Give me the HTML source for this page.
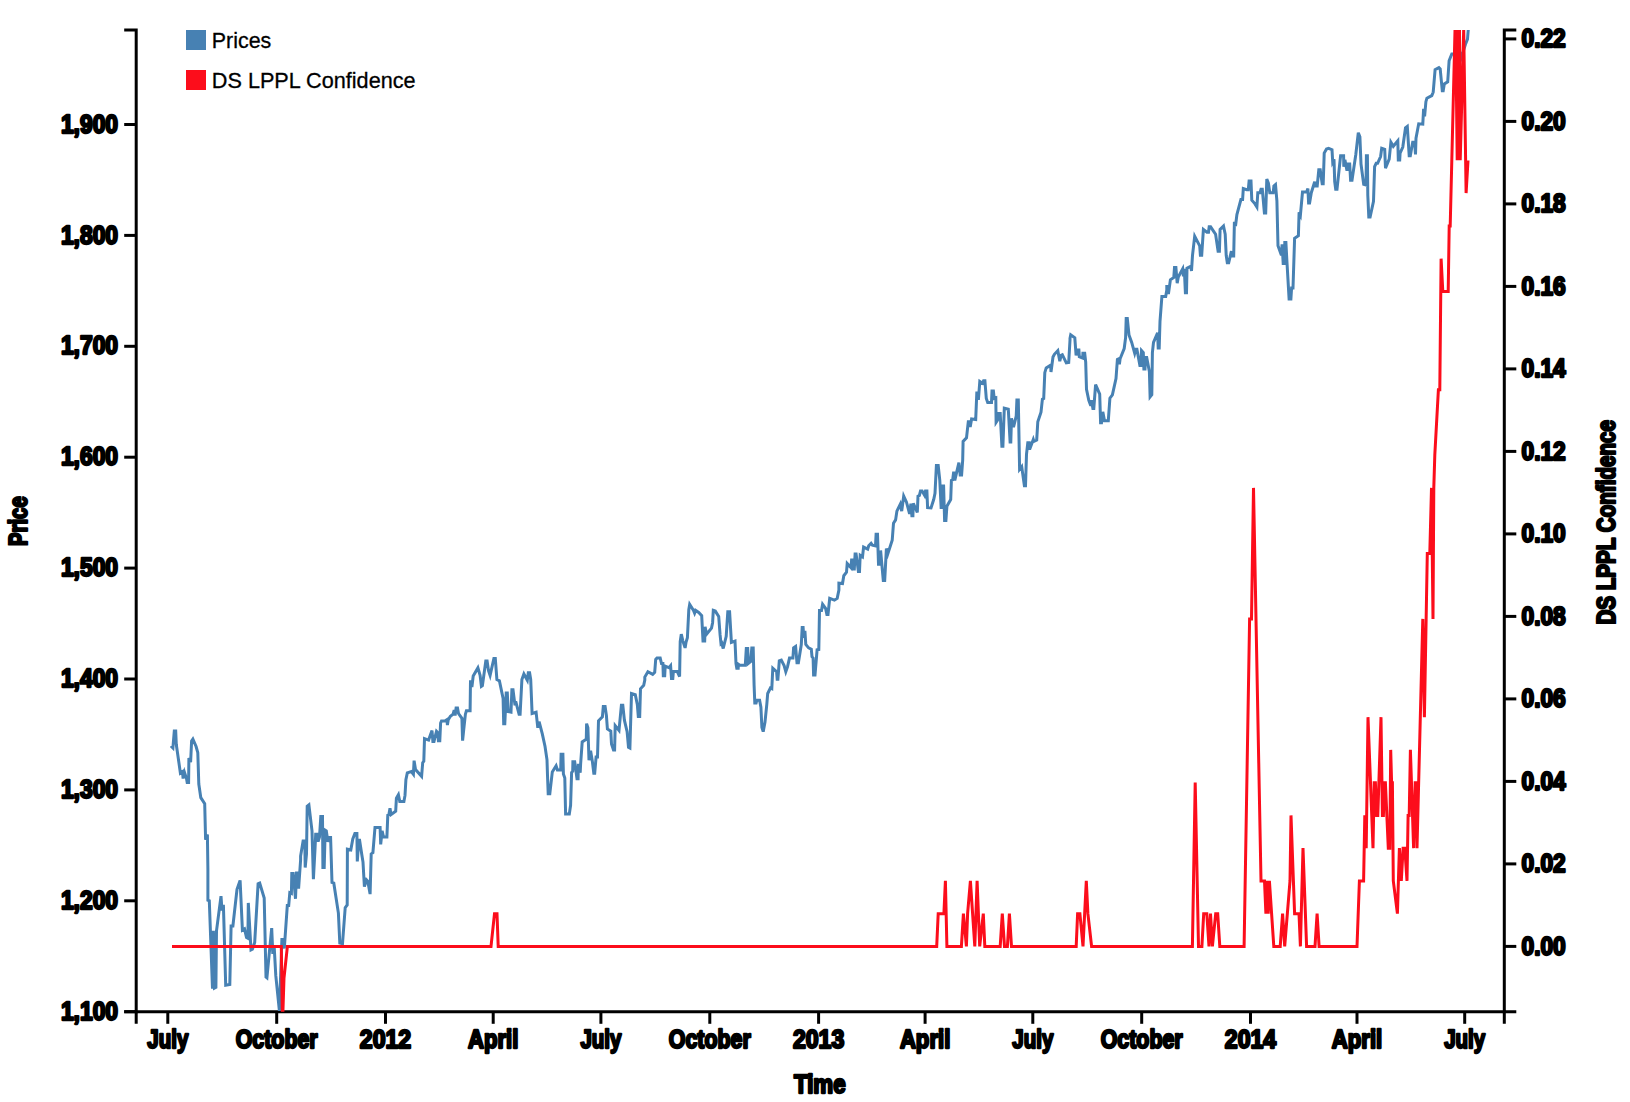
<!DOCTYPE html>
<html><head><meta charset="utf-8"><title>Chart</title>
<style>
html,body{margin:0;padding:0;background:#fff;overflow:hidden;}
svg{display:block}
text{font-family:"Liberation Sans",sans-serif;}
.ax text{font-weight:bold;font-size:25.3px;fill:#000;stroke:#000;stroke-width:2.3px;stroke-linejoin:round}
.ax path,.ax line{fill:none;stroke:#000;stroke-width:3px}
.lbl{font-weight:bold;font-size:25.3px;fill:#000;stroke:#000;stroke-width:2.3px;stroke-linejoin:round}
.leg{font-size:22.5px;fill:#000;stroke:#000;stroke-width:0.3px}
.ln{fill:none;stroke-width:3px;stroke-linejoin:miter}
</style></head><body>
<svg width="1630" height="1102" viewBox="0 0 1630 1102">
<defs><clipPath id="clip"><rect x="136.2" y="30" width="1368.1" height="981.8"/></clipPath></defs>
<rect width="1630" height="1102" fill="#fff"/>

<g class="ax">
<path d="M136.2,1023.8V1011.8H1504.3V1023.8"/>
<line x1="167.8" x2="167.8" y1="1011.8" y2="1023.8"/>
<text x="167.8" y="1047.5" text-anchor="middle" textLength="41.0" lengthAdjust="spacingAndGlyphs">July</text>
<line x1="276.7" x2="276.7" y1="1011.8" y2="1023.8"/>
<text x="276.7" y="1047.5" text-anchor="middle" textLength="81.9" lengthAdjust="spacingAndGlyphs">October</text>
<line x1="385.5" x2="385.5" y1="1011.8" y2="1023.8"/>
<text x="385.5" y="1047.5" text-anchor="middle" textLength="51.4" lengthAdjust="spacingAndGlyphs">2012</text>
<line x1="493.2" x2="493.2" y1="1011.8" y2="1023.8"/>
<text x="493.2" y="1047.5" text-anchor="middle" textLength="50.4" lengthAdjust="spacingAndGlyphs">April</text>
<line x1="600.9" x2="600.9" y1="1011.8" y2="1023.8"/>
<text x="600.9" y="1047.5" text-anchor="middle" textLength="41.0" lengthAdjust="spacingAndGlyphs">July</text>
<line x1="709.8" x2="709.8" y1="1011.8" y2="1023.8"/>
<text x="709.8" y="1047.5" text-anchor="middle" textLength="81.9" lengthAdjust="spacingAndGlyphs">October</text>
<line x1="818.6" x2="818.6" y1="1011.8" y2="1023.8"/>
<text x="818.6" y="1047.5" text-anchor="middle" textLength="51.4" lengthAdjust="spacingAndGlyphs">2013</text>
<line x1="925.1" x2="925.1" y1="1011.8" y2="1023.8"/>
<text x="925.1" y="1047.5" text-anchor="middle" textLength="50.4" lengthAdjust="spacingAndGlyphs">April</text>
<line x1="1032.8" x2="1032.8" y1="1011.8" y2="1023.8"/>
<text x="1032.8" y="1047.5" text-anchor="middle" textLength="41.0" lengthAdjust="spacingAndGlyphs">July</text>
<line x1="1141.7" x2="1141.7" y1="1011.8" y2="1023.8"/>
<text x="1141.7" y="1047.5" text-anchor="middle" textLength="81.9" lengthAdjust="spacingAndGlyphs">October</text>
<line x1="1250.5" x2="1250.5" y1="1011.8" y2="1023.8"/>
<text x="1250.5" y="1047.5" text-anchor="middle" textLength="51.4" lengthAdjust="spacingAndGlyphs">2014</text>
<line x1="1357.0" x2="1357.0" y1="1011.8" y2="1023.8"/>
<text x="1357.0" y="1047.5" text-anchor="middle" textLength="50.4" lengthAdjust="spacingAndGlyphs">April</text>
<line x1="1464.7" x2="1464.7" y1="1011.8" y2="1023.8"/>
<text x="1464.7" y="1047.5" text-anchor="middle" textLength="41.0" lengthAdjust="spacingAndGlyphs">July</text>
</g>
<g class="ax">
<path d="M124.19999999999999,30H136.2V1011.8H124.19999999999999"/>
<line x1="124.19999999999999" x2="136.2" y1="1011.7" y2="1011.7"/>
<text x="118.1" y="1019.8" text-anchor="end" textLength="57.2" lengthAdjust="spacingAndGlyphs">1,100</text>
<line x1="124.19999999999999" x2="136.2" y1="900.8" y2="900.8"/>
<text x="118.1" y="908.9" text-anchor="end" textLength="57.2" lengthAdjust="spacingAndGlyphs">1,200</text>
<line x1="124.19999999999999" x2="136.2" y1="789.9" y2="789.9"/>
<text x="118.1" y="798.0" text-anchor="end" textLength="57.2" lengthAdjust="spacingAndGlyphs">1,300</text>
<line x1="124.19999999999999" x2="136.2" y1="679.0" y2="679.0"/>
<text x="118.1" y="687.1" text-anchor="end" textLength="57.2" lengthAdjust="spacingAndGlyphs">1,400</text>
<line x1="124.19999999999999" x2="136.2" y1="568.1" y2="568.1"/>
<text x="118.1" y="576.2" text-anchor="end" textLength="57.2" lengthAdjust="spacingAndGlyphs">1,500</text>
<line x1="124.19999999999999" x2="136.2" y1="457.2" y2="457.2"/>
<text x="118.1" y="465.3" text-anchor="end" textLength="57.2" lengthAdjust="spacingAndGlyphs">1,600</text>
<line x1="124.19999999999999" x2="136.2" y1="346.3" y2="346.3"/>
<text x="118.1" y="354.4" text-anchor="end" textLength="57.2" lengthAdjust="spacingAndGlyphs">1,700</text>
<line x1="124.19999999999999" x2="136.2" y1="235.4" y2="235.4"/>
<text x="118.1" y="243.5" text-anchor="end" textLength="57.2" lengthAdjust="spacingAndGlyphs">1,800</text>
<line x1="124.19999999999999" x2="136.2" y1="124.5" y2="124.5"/>
<text x="118.1" y="132.6" text-anchor="end" textLength="57.2" lengthAdjust="spacingAndGlyphs">1,900</text>
</g>
<g class="ax">
<path d="M1516.3,30H1504.3V1011.8H1516.3"/>
<line x1="1504.3" x2="1516.3" y1="946.4" y2="946.4"/>
<text x="1521.5" y="954.5" text-anchor="start" textLength="44.2" lengthAdjust="spacingAndGlyphs">0.00</text>
<line x1="1504.3" x2="1516.3" y1="863.9" y2="863.9"/>
<text x="1521.5" y="872.0" text-anchor="start" textLength="44.2" lengthAdjust="spacingAndGlyphs">0.02</text>
<line x1="1504.3" x2="1516.3" y1="781.4" y2="781.4"/>
<text x="1521.5" y="789.5" text-anchor="start" textLength="44.2" lengthAdjust="spacingAndGlyphs">0.04</text>
<line x1="1504.3" x2="1516.3" y1="698.9" y2="698.9"/>
<text x="1521.5" y="707.0" text-anchor="start" textLength="44.2" lengthAdjust="spacingAndGlyphs">0.06</text>
<line x1="1504.3" x2="1516.3" y1="616.4" y2="616.4"/>
<text x="1521.5" y="624.5" text-anchor="start" textLength="44.2" lengthAdjust="spacingAndGlyphs">0.08</text>
<line x1="1504.3" x2="1516.3" y1="533.9" y2="533.9"/>
<text x="1521.5" y="542.0" text-anchor="start" textLength="44.2" lengthAdjust="spacingAndGlyphs">0.10</text>
<line x1="1504.3" x2="1516.3" y1="451.4" y2="451.4"/>
<text x="1521.5" y="459.5" text-anchor="start" textLength="44.2" lengthAdjust="spacingAndGlyphs">0.12</text>
<line x1="1504.3" x2="1516.3" y1="368.9" y2="368.9"/>
<text x="1521.5" y="377.0" text-anchor="start" textLength="44.2" lengthAdjust="spacingAndGlyphs">0.14</text>
<line x1="1504.3" x2="1516.3" y1="286.4" y2="286.4"/>
<text x="1521.5" y="294.5" text-anchor="start" textLength="44.2" lengthAdjust="spacingAndGlyphs">0.16</text>
<line x1="1504.3" x2="1516.3" y1="203.9" y2="203.9"/>
<text x="1521.5" y="212.0" text-anchor="start" textLength="44.2" lengthAdjust="spacingAndGlyphs">0.18</text>
<line x1="1504.3" x2="1516.3" y1="121.4" y2="121.4"/>
<text x="1521.5" y="129.5" text-anchor="start" textLength="44.2" lengthAdjust="spacingAndGlyphs">0.20</text>
<line x1="1504.3" x2="1516.3" y1="38.9" y2="38.9"/>
<text x="1521.5" y="47.0" text-anchor="start" textLength="44.2" lengthAdjust="spacingAndGlyphs">0.22</text>
</g>
<g clip-path="url(#clip)">
<path class="ln" stroke="#4781b3" d="M170.9,745.9L172.9,747.9L174.3,730.9L175.7,730.9L176.3,744.5L180.4,773.1L182.5,771.7L183.1,778.5L184.5,772.4L186.5,778.5L187.2,782.6L188.6,782.6L188.9,758.1L190.6,762.2L191.6,741.1L192.9,739.1L196.1,746.5L197.8,752.7L198.8,784L200.8,797.6L204.7,803.7L205.6,839.8L207.4,834.4L207.9,869.8L207.9,900.2L209.3,900.8L212.5,988.7L213.4,930.8L214.5,988L215.9,987.3L216.5,930.8L221,896.1L222,910.4L223.4,904.9L225.7,985.3L229.8,984.6L231.1,926L232.9,926L237,889.3L240.1,880.4L242.4,930.1L244.5,928.8L246.5,937.6L247.9,938.3L248.3,902.9L251,949.9L252.4,949.2L254.7,942.4L258.1,883.8L259.7,883.1L264.2,898.1L266,977.1L266.9,977.8L271.7,928.1L272.8,953.9L274.1,945.1L275.8,975.7L279.4,1010.9L281.9,939.6L283.3,939.6L284.3,948.5L287.3,905.6L288.7,905.6L289.8,892.7L291.4,893.4L291.8,873.6L293.2,873.6L295.5,898.8L296.5,872.9L298.2,872.9L298.6,888.6L300.6,860L300.6,856L303.1,841L304.8,841L305.2,867.6L306.5,853.9L307.2,806.3L308.9,804.9L312,830.8L313.4,879.1L315.1,847.1L315.7,834.2L317,834.2L318.1,841.7L319.5,836.9L320.8,816.5L322.5,816.5L322.9,867.6L324.2,867.6L325.2,830.1L326.3,830.8L327.9,841.7L329.3,837.6L330.6,837.6L332,882.5L333.8,883.2L338.4,913.1L339.8,943L342.5,943.7L345.2,907.7L347.2,904.9L347.4,849.2L350.8,849.9L352.8,839L354.9,833.5L356.9,833.5L357.3,861.4L358.7,840.3L359.6,840.3L361.7,853.9L363,862.1L364.4,886.6L366.5,879.8L367.8,881.2L370.1,894.1L371.2,853.9L372.9,852.6L375,827.4L380.1,827.4L380.7,844.4L382.1,830.8L383.5,836.9L386.9,836.9L387.8,815.1L388.9,814.5L390,808.3L391,814.5L395.7,811.1L396.4,798.1L398.4,794.7L399.8,801.5L403.9,801.5L405,795.4L405.9,779.7L407.3,772.9L411.4,771.6L413.4,774.3L414.1,760.7L415.5,769.5L421.6,776.3L422.7,762.7L423.8,761.2L424.5,738.7L428.6,740.1L432,730.5L432.9,741.4L434,741.4L436.5,731.2L437.8,732.6L438.4,740.7L439.8,740.7L440.6,723L441.5,721L444.9,721L447,719.6L447.4,725.1L448.3,719.6L450.4,716.2L453.1,714.2L454.2,710.1L455.1,715.6L456.1,708.1L457.5,708.1L458.5,713.5L461.9,718.3L462.6,740.7L463.7,729.9L465.4,714.2L466.4,710.8L470.1,710.8L470.5,680.2L471.9,687L473.2,676.1L477.9,667.9L480.1,675.4L481.4,686.3L482.4,685.6L485.8,661.1L487.1,661.1L488.5,670.6L490.1,675.4L493.9,658.4L495.3,658.4L496.9,679.5L499.4,680.8L501.4,690.4L503.1,698.5L503.7,723.7L504.8,723.7L506.2,693.1L507.3,693.1L508.2,711.5L511,712.2L511.9,689.7L513,689.7L515,705.4L515.7,701.3L519.1,714.2L520.1,714.2L521.9,679.5L523.9,674L527.3,680.2L528.3,672.7L529.6,672.7L530.7,679.5L532.1,713.5L536.1,712.2L537.8,727.8L539.1,721.7L542.3,733.9L545,746.2L547,759.8L547.5,775.3L548.2,793.7L549.8,793.7L552.3,771.9L556.1,765.8L557.4,769.9L560.7,769.9L561.1,754.2L562.9,754.2L563.4,773.9L564.8,778L565.6,814.1L569.3,814.1L570.6,805.3L571.6,772.6L572.7,771.2L572.9,761.7L574.7,761.7L577,778.7L578.1,778.7L578.4,763.7L580.2,772.6L580.6,764.4L582.2,741.9L586.3,739.2L586.6,723.6L587.9,727.7L589,760.3L590.6,750.8L592.4,761.7L593.8,773.3L594.7,773.3L596.1,756.9L597.5,756.9L598.5,720.8L602.4,716.8L603.3,706.5L605.1,706.5L606.4,715.4L607.4,729L610.8,731.1L611.5,744L613.5,750.1L614.6,750.1L615.2,725.6L619,730.4L621.4,705.2L622.8,705.2L624.4,720.2L627.1,731.7L628.5,747.4L629.9,748.1L631.5,693.6L635.3,694.7L637.3,704.5L638.3,716.5L639.7,716.5L640.5,688.8L643.7,685.4L644.8,680L644.8,677.1L647.9,671.7L652.7,674.4L654.7,672.4L655.7,659.4L657,658.1L660.2,658.1L661.5,663.5L662.9,663.5L663.3,675.8L664.7,675.8L665.2,666.2L669,667.6L670.6,665.6L671.5,678.5L672.8,678.5L673.4,671.4L677.2,671.4L679.6,676.5L680.2,641.7L681.3,634.2L682.9,641.1L685.1,647.9L686,642.4L687.4,637.7L688.8,609.7L689.7,604.3L693.5,610.4L694.6,613.1L695.6,610.4L698.7,612.5L701.7,615.6L703,641.1L704.7,641.1L705.1,626.8L706.5,634.2L711.5,628.1L712.6,622.7L713.3,610.4L715.3,611.1L718.7,616.5L720.1,634.9L721,643.8L721.8,643.1L723.2,648.5L726.2,636.3L727.8,611.8L729.6,611.8L731.4,642.4L735,641.1L736,663.5L736.8,668.3L738.2,668.3L738.4,664.2L739.8,665.2L745.3,665.2L746.3,648.5L747.7,648.5L748.3,663.5L750.7,661.5L751.8,647.9L753.2,647.9L754.1,685.3L754.8,703L756.1,703L756.8,700.3L759.6,700.3L760.9,707.1L761.9,727.5L763.2,731.6L765,722.1L766.8,704.4L767.7,693.5L770.4,688L771.8,688.7L772.8,668.3L776.6,671.7L777.2,679.2L777.9,679.2L779.3,660.8L781.3,660.1L784.1,665.6L785.8,671.7L787.5,666.9L789.5,658.1L792.9,658.1L793.6,647.9L795.6,646.5L797,662.8L798.4,662.8L801.3,644.5L802.2,627.4L803.1,627.4L803.8,637.7L804.9,630.8L805.8,644.5L808.6,647.9L811.3,649.2L812,656.7L813.1,658.1L813.6,675.1L815,675.1L817.1,649.9L818.8,649.6L819.5,610.4L821.5,610.4L822.6,604.3L825.6,608.4L826.9,614.5L828,614.5L829.7,598.4L834.4,600.2L837.2,598.4L838.9,590L838.9,583.2L842.5,583.6L843.8,575.7L846.5,572.3L847.2,563.5L851,567.6L851.6,560.1L852.7,560.1L853.4,568.9L854.3,568.9L855.1,553.9L856.1,553.9L858.4,571.6L859.5,571.6L860.2,555.3L862.5,556.9L863.6,547.1L867.7,549.2L868.7,545.8L871.1,543.3L872.4,545.1L875.5,545.8L876.1,534.2L877.5,534.2L878.5,564.2L879.9,564.2L880.6,550.5L883.3,580.5L884.7,580.5L886.4,548.5L887.8,553.9L892.2,540.3L893.5,523.3L895.6,519.9L896.9,511.1L900.3,504.2L901.7,511.1L903.7,496.1L906.5,502.2L909.6,513.8L910.9,503.6L911.9,515.8L912.9,515.8L913.3,503.3L917.3,512.4L918,496.1L919.4,495.4L920.5,491L922.1,491L924.6,495.4L925.5,491L926.9,491L927.6,507.7L931,507.9L933.7,499.5L935,493.4L936.4,465.4L938.2,465.4L939.8,480.4L941.2,509L942.3,485.9L943.6,485.9L944.6,520.6L945.9,520.6L946.9,506.3L950.7,499.5L951.4,480.4L952.7,479.7L953.7,471.6L954.8,480.4L958.9,462.7L960.2,475L961.6,475L962.7,460L962.7,459.8L963.1,441.4L966.5,437.8L968.3,421.7L969.7,421.7L970.2,427.1L971.6,419L975.7,419.6L976.8,393.1L977.8,393.1L978.4,399.9L979.8,381.5L982.5,383.3L983.6,380.8L984.9,380.8L986.3,398.5L987.7,402.4L991.5,402.4L992,391.1L993.4,391.1L994.2,398.5L995.8,397.9L996.1,422.4L997.5,420.3L998.5,413.5L1000.2,413.5L1001.9,446.2L1002.9,446.2L1004.3,408.1L1008.3,409.2L1010.1,442.1L1010.8,442.1L1011.5,418.3L1013.5,427.1L1016.2,416.2L1016.9,399.9L1018.3,399.9L1019.6,469.3L1021.7,466.6L1024.4,485.7L1025.5,485.7L1026.5,454.4L1027.8,442.8L1029.2,442.8L1029.6,449.6L1033.3,439.4L1033.9,441.4L1036.7,440.1L1037.8,421.7L1041,412.2L1042.4,399.2L1043.7,398.5L1044.8,372.7L1046.2,367.9L1050.6,365.2L1051,372L1051.9,365.2L1053,357L1054.4,354.3L1057.8,350.6L1059.8,361.1L1061.2,355.2L1062.3,354.7L1066.3,362.9L1068.7,362.5L1070,340L1070,338.3L1070.7,334.9L1074.8,337.9L1076.1,355.4L1077.2,349.9L1078.9,349.9L1079.3,356.7L1082.7,358.1L1082.9,353.3L1084.7,353.3L1085.7,362.2L1086.5,389.4L1088.8,400.3L1090.8,405.7L1091.5,400.3L1092.9,408.4L1093.8,408.4L1095.6,384.6L1099.7,394.2L1100.6,422.7L1101.5,422.7L1102.8,411.9L1104.5,420.7L1108.3,420.7L1109.9,398.2L1112.4,394.8L1116,378.5L1117.4,359.4L1118.8,358.8L1119.4,364.2L1120.1,358.8L1124.2,348.5L1125.6,337.7L1126.2,318.6L1127.3,318.6L1129,334.9L1131.7,342.4L1134.7,353.3L1135.8,349.2L1136.9,349.2L1139.9,365.6L1140.9,365.6L1141.5,350.6L1143.3,352.6L1143.9,369L1145,369L1145.6,357.4L1146.7,357.4L1149.4,371.7L1150.1,396.9L1151.8,394.8L1152.4,352.6L1153.5,342.4L1157.6,332.9L1158.2,347.9L1159.2,347.9L1160,321.3L1161.9,296.5L1165.7,296.5L1166.8,290L1166.8,286.6L1167.7,286.6L1168.4,294.1L1170.4,279.8L1173.8,277.4L1174.5,267.6L1175.9,267.6L1177.2,283.2L1178.3,277.1L1182.7,268.9L1183.4,276.4L1184.3,268.9L1185.4,292.7L1186.5,292.7L1187,268.2L1190.8,266.2L1191.5,271L1192.5,255.3L1194.7,236.2L1199.7,245.8L1200.4,255.3L1201.7,255.3L1203.4,229.4L1206.9,232.2L1208.5,232.2L1209.2,226.7L1210.6,226.7L1213.3,230.8L1215.6,234.2L1218.1,251.2L1219.4,251.2L1220.1,229.4L1223.5,226L1225.2,234.2L1226.2,255.3L1227.3,262.8L1228.7,262.8L1231.4,251.2L1232.4,256L1233.7,256L1234.4,221.9L1235.5,226L1236.9,214.5L1240.9,199.5L1242.6,199.5L1243.3,188.6L1246.7,189.7L1248.3,189.7L1249.1,181.1L1251,181.1L1251.8,200.2L1254.8,203.6L1256.9,207L1257.8,192.7L1260,192.7L1261,189.3L1262.3,189.3L1264.4,213.1L1265.7,213.1L1266.8,179.1L1268.4,183.1L1269.8,192.7L1273.2,192.7L1273.9,185.9L1275.5,184.5L1276.9,200.8L1278,245.8L1281.4,255.3L1282.1,244.4L1283.2,263.5L1284.5,263.5L1284.8,242.4L1285.9,242.4L1286.8,259.4L1289.1,298.9L1290.9,298.9L1291.6,288L1293,288L1294.6,238.3L1298.4,235.6L1299.1,212.4L1300.4,215.1L1302.5,192L1306.6,192L1307.9,188.6L1308.6,202.9L1309.6,202.9L1311.3,192.7L1314.7,181.8L1315.4,185.9L1317.2,185.9L1318.8,169.8L1320.2,169.8L1322.2,183.8L1323.2,183.8L1324,160L1324.2,153.1L1326.5,149L1328.6,148.3L1332,149.7L1332.7,161.9L1334,159.2L1334.7,181.7L1335.7,189.2L1337,189.2L1340.6,155.8L1343.6,155.8L1343.8,166.7L1344.9,159.9L1347,170.8L1347.7,164L1349.7,164L1350.6,180.3L1352,180.3L1355.8,154.5L1358.3,132.7L1359.9,136.8L1361,164L1363.7,184.4L1366,185.1L1366.4,155.8L1367.4,155.8L1367.8,195.3L1368.8,217.1L1370.1,217.1L1373.5,201.4L1374.6,166.7L1376.2,163.3L1377.6,163.3L1380.6,156.5L1381.7,148.3L1384.7,149.3L1385.5,168.1L1389.2,159.2L1390.9,142.2L1393.3,146.3L1397.8,140.8L1398.3,159.9L1399.7,159.9L1400.1,153.1L1402.8,147L1405.5,127.9L1407.3,126.5L1409.2,155.8L1410.3,155.8L1412.7,142.2L1414.6,142.2L1415.5,154.5L1416,138.1L1418.7,123.8L1422.8,124.2L1423.6,108.8L1424.6,116.3L1425.9,101.7L1426.9,98.3L1431.8,95.6L1433.2,92.2L1435.1,69.7L1438.9,67.7L1440.2,69L1442.3,90.8L1443.2,90.8L1444.3,84L1447.7,81.9L1449.1,60.8L1451.8,54L1454.5,54L1456.6,60.8L1459.3,51.3L1461.3,57.4L1465.4,44.5L1467.5,39.1L1468.6,25.4"/>
<path class="ln" stroke="#fc0d1b" d="M172,946.4L281.3,946.4L282.5,1025L284,978L287.4,946.4L491,946.4L494.5,913.65L497,913.65L498.2,946.4L936.7,946.4L938.2,913.65L943.9,913.65L945.4,880.9L946.9,946.4L961.4,946.4L963.4,913.65L966.4,946.4L967.6,913.65L970.4,880.9L974.8,946.4L977.1,880.9L979.7,946.4L983.3,913.65L984.8,946.4L1000.2,946.4L1002.3,913.65L1004.5,946.4L1007.4,946.4L1009.4,913.65L1011.5,946.4L1076.2,946.4L1077.6,913.65L1079.9,913.65L1083,946.4L1086.3,880.9L1087.9,913.65L1091.6,946.4L1192.4,946.4L1195.2,782.65L1198.5,946.4L1201.9,946.4L1203.7,913.65L1206.8,913.65L1209,946.4L1210.5,913.65L1212.4,946.4L1215.7,913.65L1217.7,913.65L1219.8,946.4L1244.1,946.4L1249.6,618.9L1251.5,618.9L1253.5,487.9L1261,880.9L1264.5,880.9L1265.9,913.65L1267,880.9L1268.2,913.65L1269.4,880.9L1273.8,946.4L1280.2,946.4L1282.6,913.65L1284.7,946.4L1290,880.9L1291,815.4L1293.4,880.9L1294.6,913.65L1299,913.65L1300.4,946.4L1303,848.15L1306.6,946.4L1315,946.4L1317.1,913.65L1319.1,946.4L1357,946.4L1359.4,880.9L1363.6,880.9L1364.8,815.4L1366.2,848.15L1368,717.15L1373,848.15L1374.2,782.65L1375.4,782.65L1376.6,815.4L1377.8,815.4L1381,717.15L1382.4,815.4L1383.4,815.4L1384.4,782.65L1385.4,782.65L1388.3,848.15L1389.8,848.15L1390.7,749.9L1391.6,782.65L1392.4,782.65L1393.3,880.9L1397.4,913.65L1399.4,848.15L1401.3,880.9L1403.1,848.15L1404.8,848.15L1407,880.9L1408.1,815.4L1409.2,815.4L1410.4,749.9L1413.6,848.15L1415.2,782.65L1416.2,782.65L1417,848.15L1422.8,618.9L1424.4,717.15L1427.3,553.4L1429.8,553.4L1431.5,487.9L1433,618.9L1433.8,487.9L1434.8,455.15L1438.4,389.65L1439.8,389.65L1441.1,258.65L1442.8,291.4L1448.2,291.4L1449.2,225.9L1450.2,225.9L1455.5,10L1457.2,160.3L1457.4,10L1458.8,160.3L1459.4,10L1460.2,160.3L1463.7,29.4L1466.1,193.05L1468,160.3"/>
</g>
<text class="lbl" transform="translate(27,521.2) rotate(-90)" text-anchor="middle" textLength="49.8" lengthAdjust="spacingAndGlyphs">Price</text>
<text class="lbl" transform="translate(1615,522.3) rotate(-90)" text-anchor="middle" textLength="204.5" lengthAdjust="spacingAndGlyphs">DS LPPL Confidence</text>
<text class="lbl" x="819.8" y="1092.5" text-anchor="middle" textLength="51.8" lengthAdjust="spacingAndGlyphs">Time</text>
<rect x="186" y="30" width="20" height="20" fill="#4781b3"/>
<text class="leg" x="211.8" y="47.6" textLength="59.5" lengthAdjust="spacingAndGlyphs">Prices</text>
<rect x="186" y="70" width="20" height="20" fill="#fc0d1b"/>
<text class="leg" x="211.8" y="87.5" textLength="203.8" lengthAdjust="spacingAndGlyphs">DS LPPL Confidence</text>
</svg></body></html>
